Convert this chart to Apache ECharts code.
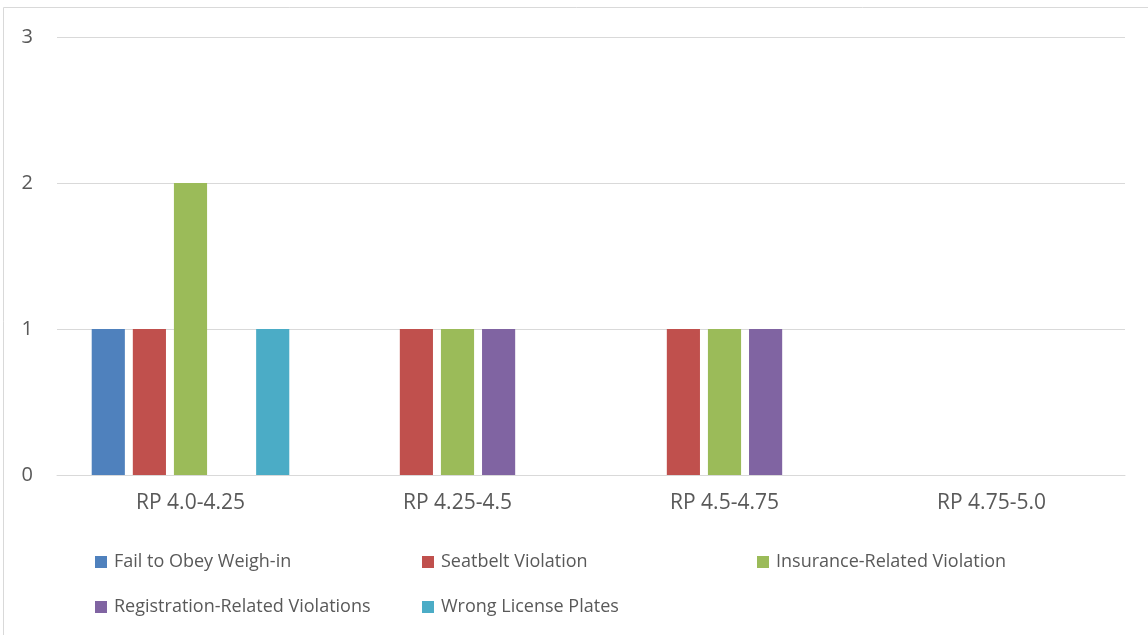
<!DOCTYPE html>
<html><head><meta charset="utf-8">
<script src="https://cdn.jsdelivr.net/npm/echarts@6/dist/echarts.min.js"></script>
<style>html,body{margin:0;padding:0;background:#fff}#c{width:1148px;height:635px}</style>
</head><body><div id="c"></div>
<script>
const categories = ["RP 4.0-4.25", "RP 4.25-4.5", "RP 4.5-4.75", "RP 4.75-5.0"];
const seriesNames = ["Fail to Obey Weigh-in", "Seatbelt Violation", "Insurance-Related Violation", "Registration-Related Violations", "Wrong License Plates"];
const failWeighIn = [1, 0, 0, 0];
const seatbelt = [1, 1, 1, 0];
const insurance = [2, 1, 1, 0];
const registration = [0, 1, 1, 0];
const wrongPlates = [1, 0, 0, 0];
const yTicks = [0, 1, 2, 3];
const colors = ["#4f81bd", "#c0504d", "#9bbb59", "#8064a2", "#4bacc6"];
const values = [failWeighIn, seatbelt, insurance, registration, wrongPlates];

const font = "'Open Sans', 'Noto Sans', sans-serif";
const legendPos = [[90, 548], [417, 548], [752, 548], [90, 593], [417, 593]];

const chart = echarts.init(document.getElementById('c'), null, {renderer: 'canvas'});
chart.setOption({
  animation: false,
  color: colors,
  graphic: [{type: 'rect', shape: {x: 3.5, y: 7.5, width: 1160, height: 660}, style: {fill: 'none', stroke: '#d9d9d9', lineWidth: 1}}],
  grid: {left: 57, right: 23, top: 37, bottom: 160},
  xAxis: {
    type: 'category', data: categories,
    axisLine: {lineStyle: {color: '#d9d9d9'}}, axisTick: {show: false},
    axisLabel: {color: '#595959', fontFamily: font, fontSize: 21, margin: 18}
  },
  yAxis: {
    type: 'value', min: 0, max: 3, interval: 1,
    axisLabel: {color: '#595959', fontFamily: font, fontSize: 20, margin: 24,
      formatter: v => yTicks.includes(v) ? String(v) : ''},
    splitLine: {lineStyle: {color: '#d9d9d9'}}
  },
  legend: seriesNames.map((n, i) => ({
    data: [n], left: legendPos[i][0], top: legendPos[i][1],
    icon: 'rect', itemWidth: 12, itemHeight: 12,
    textStyle: {color: '#595959', fontFamily: font, fontSize: 18, padding: [0, 0, 0, 2]}
  })),
  series: seriesNames.map((n, i) => ({
    name: n, type: 'bar', data: values[i].map(v => v === 0 ? null : v),
    barGap: '24%', barCategoryGap: '26%',
    itemStyle: {color: colors[i]}
  }))
});
</script></body></html>
